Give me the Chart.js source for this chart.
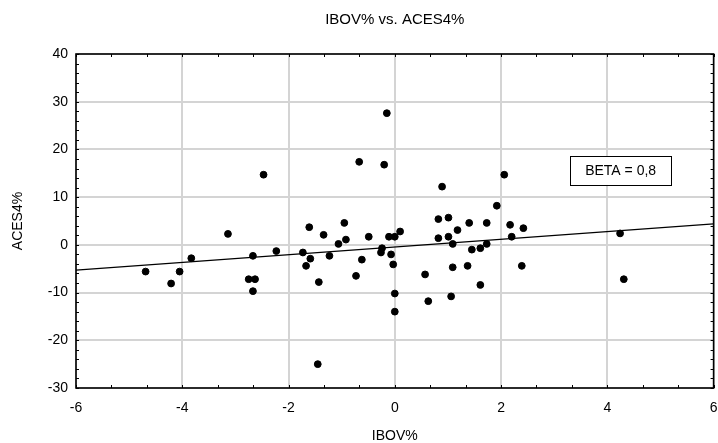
<!DOCTYPE html>
<html>
<head>
<meta charset="utf-8">
<script src="https://cdn.jsdelivr.net/npm/chart.js@4"></script>
<style>
  html, body { margin: 0; padding: 0; background: #fff; }
  #wrap { width: 718px; height: 443px; position: relative; }
</style>
</head>
<body>
<div id="wrap"><canvas id="scatter-chart"></canvas></div>
<script>
// IBOV% daily returns against ACES4% returns
const ibov = [
  -4.69, -4.21, -4.05, -3.83, -3.14, -2.75, -2.63, -2.67, -2.67, -2.47,
  -2.23, -1.73, -1.67, -1.61, -1.59, -1.45, -1.43, -1.34, -1.23, -1.06,
  -0.95, -0.92, -0.73, -0.67, -0.62, -0.49, -0.26, -0.24, -0.20, -0.15,
  -0.11, -0.07, -0.03, 0.00, 0.00, 0.00, 0.10, 0.57, 0.63, 0.82,
  0.82, 0.89, 1.01, 1.01, 1.06, 1.09, 1.09, 1.18, 1.37, 1.40,
  1.45, 1.61, 1.61, 1.73, 1.73, 1.92, 2.06, 2.17, 2.20, 2.39,
  2.42, 4.24, 4.31,
];
const aces4 = [
  -5.6, -8.1, -5.6, -2.8, 2.3, -7.2, -7.2, -9.7, -2.3, 14.7,
  -1.3, -1.6, -4.4, 3.7, -2.9, -25.0, -7.8, 2.1, -2.3, 0.2,
  4.6, 1.1, -6.5, 17.4, -3.1, 1.7, -1.6, -0.7, 16.8, 27.6,
  1.7, -2.0, -4.1, 1.7, -10.2, -14.0, 2.8, -6.2, -11.8, 5.4,
  1.4, 12.2, 5.7, 1.7, -10.8, 0.2, -4.7, 3.1, -4.4, 4.6,
  -1.0, -0.7, -8.4, 4.6, 0.2, 8.2, 14.7, 4.2, 1.7, -4.4,
  3.5, 2.4, -7.2,
];

// fitted line end points
const fitX = [-6, 6];
const fitY = [-5.3, 4.4];
const betaLabel = "BETA = 0,8";
const betaAt = [4.25, 15.6];

const FONT = "'Liberation Sans', Arial, sans-serif";

// inward minor ticks on all four sides plus the frame
const framePlugin = {
  id: "frame",
  beforeDatasetsDraw(chart) {
    const { ctx, chartArea: a, scales } = chart;
    ctx.save();
    ctx.strokeStyle = "#000";
    ctx.lineWidth = 1;
    ctx.beginPath();
    for (let i = 0; i <= 18; i++) {
      const px = Math.round(scales.x.getPixelForValue(-6 + (i * 2) / 3)) + 0.5;
      ctx.moveTo(px, a.top); ctx.lineTo(px, a.top + 3);
      ctx.moveTo(px, a.bottom); ctx.lineTo(px, a.bottom - 3);
    }
    for (let v = -30; v <= 40; v += 2) {
      const py = Math.round(scales.y.getPixelForValue(v)) + 0.5;
      ctx.moveTo(a.left, py); ctx.lineTo(a.left + 3, py);
      ctx.moveTo(a.right, py); ctx.lineTo(a.right - 3, py);
    }
    ctx.stroke();
    ctx.lineWidth = 1.6;
    ctx.strokeRect(a.left, a.top, a.right - a.left, a.bottom - a.top);
    ctx.restore();
  },
  afterDatasetsDraw(chart) {
    const { ctx, scales } = chart;
    const cx = scales.x.getPixelForValue(betaAt[0]);
    const cy = scales.y.getPixelForValue(betaAt[1]);
    ctx.save();
    ctx.font = "14px " + FONT;
    const w = 101, h = 29;
    ctx.fillStyle = "#fff";
    ctx.fillRect(cx - w / 2, cy - h / 2, w, h);
    ctx.strokeStyle = "#000";
    ctx.lineWidth = 1;
    ctx.strokeRect(Math.round(cx - w / 2) + 0.5, Math.round(cy - h / 2) + 0.5, w, h);
    ctx.fillStyle = "#000";
    ctx.textAlign = "center";
    ctx.textBaseline = "middle";
    ctx.fillText(betaLabel, cx, cy + 1);
    ctx.restore();
  },
};

const points = ibov.map((x, i) => ({ x, y: aces4[i] }));
const fitLine = fitX.map((x, i) => ({ x, y: fitY[i] }));

new Chart(document.getElementById("scatter-chart").getContext("2d"), {
  type: "scatter",
  data: {
    datasets: [
      {
        label: "ACES4%",
        data: points,
        backgroundColor: "#000",
        borderColor: "#000",
        pointRadius: 3.4,
        pointHoverRadius: 3.4,
      },
      {
        label: "fit",
        type: "line",
        data: fitLine,
        borderColor: "#000",
        borderWidth: 1.3,
        pointRadius: 0,
        fill: false,
      },
    ],
  },
  options: {
    responsive: true,
    maintainAspectRatio: false,
    animation: false,
    layout: { padding: { left: 0, right: 4, top: 0, bottom: 0 } },
    plugins: {
      legend: { display: false },
      tooltip: { enabled: false },
      title: {
        display: true,
        fullSize: false,
        text: "IBOV% vs. ACES4%",
        color: "#000",
        font: { family: FONT, size: 15, weight: "normal", lineHeight: 1.2 },
        padding: { top: 11, bottom: 25 },
      },
    },
    scales: {
      x: {
        type: "linear",
        min: -6,
        max: 6,
        afterFit: (scale) => {
          scale.height = 55;
          scale.paddingLeft = 0;
          scale.paddingRight = 0;
        },
        grid: { color: "#d4d4d4", lineWidth: 2, drawTicks: false },
        border: { display: false },
        ticks: {
          stepSize: 2,
          padding: 12,
          color: "#000",
          font: { family: FONT, size: 14 },
        },
        title: {
          display: true,
          text: "IBOV%",
          color: "#000",
          font: { family: FONT, size: 14, lineHeight: 1 },
          padding: { top: 0, bottom: 0 },
        },
      },
      y: {
        type: "linear",
        min: -30,
        max: 40,
        afterFit: (scale) => {
          scale.width = 76;
          scale.paddingTop = 0;
          scale.paddingBottom = 0;
        },
        grid: { color: "#d4d4d4", lineWidth: 2, drawTicks: false },
        border: { display: false },
        ticks: {
          stepSize: 10,
          padding: 8,
          color: "#000",
          font: { family: FONT, size: 14 },
        },
        title: {
          display: true,
          text: "ACES4%",
          color: "#000",
          font: { family: FONT, size: 14, lineHeight: 1 },
          padding: { top: 11, bottom: 0 },
        },
      },
    },
  },
  plugins: [framePlugin],
});
</script>
</body>
</html>
